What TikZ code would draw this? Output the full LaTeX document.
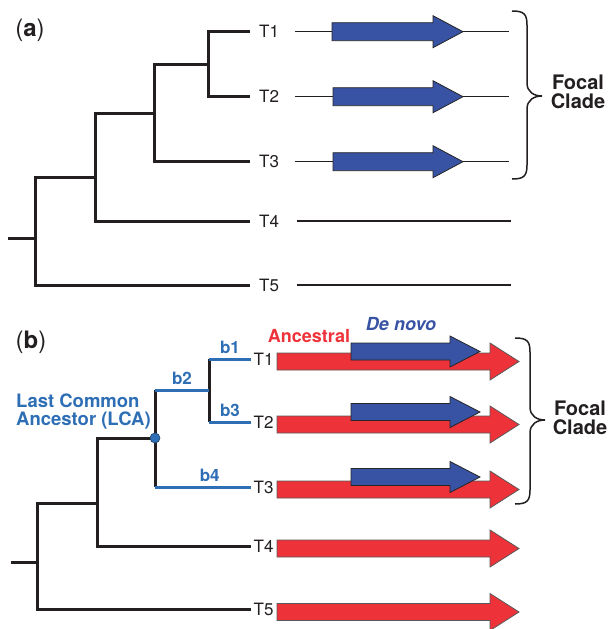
\documentclass[tikz,border=0pt]{standalone}
\usepackage{fontspec}
\setmainfont{TeX Gyre Heros}
\definecolor{arrowblue}{HTML}{3852A4}
\definecolor{arrowred}{HTML}{EE3239}
\definecolor{lcablue}{HTML}{2E6EB5}
\definecolor{treeblack}{HTML}{231F20}
% #1 tail x, #2 tip x, #3 head start x, #4 centre y, #5 half shaft, #6 half head, #7 style
\newcommand{\genearrow}[7]{%
  \draw[#7] (#1,#4-#5) -- (#3,#4-#5) -- (#3,#4-#6) -- (#2,#4) -- (#3,#4+#6)
    -- (#3,#4+#5) -- (#1,#4+#5) -- cycle;}
% #1 end x, #2 vertical x, #3 tip x, #4 top y, #5 mid y, #6 bottom y
\newcommand{\focalbrace}[6]{%
  \draw[line width=1.5pt, treeblack] (#1,#4) .. controls (#2-3,#4) and (#2,#4+3) .. (#2,#4+14)
    -- (#2,#5-13) .. controls (#2,#5-4) and (#3-8,#5) .. (#3,#5)
    .. controls (#3-8,#5) and (#2,#5+4) .. (#2,#5+13)
    -- (#2,#6-14) .. controls (#2,#6-3) and (#2-3,#6) .. (#1,#6);}
\begin{document}
\begin{tikzpicture}[x=1pt,y=-1pt,
  branch/.style={line width=3pt, draw=treeblack},
  bbranch/.style={line width=3pt, draw=lcablue},
  genome/.style={line width=1.1pt, draw=treeblack},
  bluegene/.style={fill=arrowblue, draw=black!85, line width=0.8pt},
  redgene/.style={fill=arrowred, draw=black!65, line width=0.8pt},
  tipa/.style={anchor=west, inner xsep=9pt, inner ysep=0pt, text=treeblack, font=\fontsize{17}{20}\selectfont},
  tipb/.style={anchor=west, inner xsep=2.5pt, inner ysep=0pt, text=treeblack, font=\fontsize{17}{20}\selectfont},
  blabel/.style={above=3pt, inner sep=1pt, text=lcablue, font=\bfseries\fontsize{17}{20}\selectfont},
  clade/.style={align=center, inner sep=0pt, text=treeblack, font=\bfseries\fontsize{20}{19}\selectfont},
  panel/.style={inner sep=0pt, text=treeblack, font=\fontsize{24}{28}\selectfont},
]
\useasboundingbox (0,0) rectangle (611,629);

% ---------------- panel (a) ----------------
\node[panel] (pa) at (30,30) {(\textbf{a})};

\node[tipa] (aT1) at (250,31.7) {T1};
\node[tipa] (aT2) at (250,96.7) {T2};
\node[tipa] (aT3) at (250,161.7) {T3};
\node[tipa] (aT4) at (250,221) {T4};
\node[tipa] (aT5) at (250,285) {T5};

\coordinate (an4) at (208,64.2);
\coordinate (an3) at (154,113);
\coordinate (an2) at (95,177.5);
\coordinate (an1) at (35,238);
\coordinate (aroot) at (8,238);

\draw[branch] (aT1.west) -| (an4) |- (aT2.west);
\draw[branch] (an4) -| (an3) |- (aT3.west);
\draw[branch] (an3) -| (an2) |- (aT4.west);
\draw[branch] (an2) -| (an1) |- (aT5.west);
\draw[branch] (aroot) -- (an1);

\draw[genome] (295,31.7) -- (509,31.7);
\draw[genome] (295,96.7) -- (509,96.7);
\draw[genome] (295,161.7) -- (509,161.7);
\draw[genome] (297,221) -- (511,221);
\draw[genome] (297,285) -- (511,285);

\genearrow{332}{463}{433}{31.7}{9}{16}{bluegene}
\genearrow{333}{463}{433}{96.7}{9}{16}{bluegene}
\genearrow{333}{463}{433}{161.7}{9}{16}{bluegene}

\focalbrace{512}{527}{542}{11}{96}{179}
\node[clade] (fca) at (578,92) {Focal\\Clade};

% ---------------- panel (b) ----------------
\node[panel] (pb) at (31,342) {(\textbf{b})};

\node[tipb] (bT1) at (251,359) {T1};
\node[tipb] (bT2) at (251,422) {T2};
\node[tipb] (bT3) at (251,487) {T3};
\node[tipb] (bT4) at (251,546) {T4};
\node[tipb] (bT5) at (251,609) {T5};

\coordinate (bn4) at (209,390);
\coordinate (blca) at (155,438);
\coordinate (bn2) at (97,503);
\coordinate (bn1) at (37,562);
\coordinate (broot) at (11,562);

\draw[branch] (bT1.west -| bn4) -- (bT2.west -| bn4);
\draw[bbranch] (bT1.west -| bn4) -- node[blabel] {b1} (bT1.west);
\draw[bbranch] (bT2.west -| bn4) -- node[blabel] {b3} (bT2.west);
\draw[branch] (bn4 -| blca) -- (bT3.west -| blca);
\draw[bbranch] (bn4 -| blca) -- node[blabel] {b2} (bn4);
\draw[bbranch] (bT3.west -| blca) -- node[blabel, pos=0.57] {b4} (bT3.west);
\draw[branch] (blca) -| (bn2) |- (bT4.west);
\draw[branch] (bn2) -| (bn1) |- (bT5.west);
\draw[branch] (broot) -- (bn1);

\node[circle, fill=lcablue, draw=lcablue!60!black, line width=0.6pt, minimum size=10pt, inner sep=0pt] (lcadot) at (blca) {};
\node[anchor=west, align=left, inner sep=0pt, text=lcablue, font=\bfseries\fontsize{18.5}{18}\selectfont] (lcatext) at (16,411) {Last Common\\Ancestor (LCA)};

\genearrow{277}{519}{490}{361.5}{8.5}{18.5}{redgene}
\genearrow{277}{519}{490}{424.5}{8.5}{18.5}{redgene}
\genearrow{277}{519}{490}{489.5}{8.5}{18.5}{redgene}
\genearrow{277}{519}{490}{548.5}{8.5}{18.5}{redgene}
\genearrow{277}{519}{490}{612}{8.5}{18.5}{redgene}

\genearrow{351}{480}{450}{351.5}{8.5}{15.5}{bluegene}
\genearrow{351}{480}{450}{412}{8.5}{15.5}{bluegene}
\genearrow{351}{480}{450}{477}{8.5}{15.5}{bluegene}

\node[inner sep=0pt, text=arrowred, font=\bfseries\fontsize{18}{20}\selectfont] (anc) at (309,336) {Ancestral};
\node[inner sep=0pt, text=arrowblue, font=\bfseries\itshape\fontsize{18}{20}\selectfont] (dnv) at (401,324) {De novo};

\focalbrace{515}{530}{545}{338}{420}{504}
\node[clade] (fcb) at (580,418) {Focal\\Clade};
\end{tikzpicture}
\end{document}
